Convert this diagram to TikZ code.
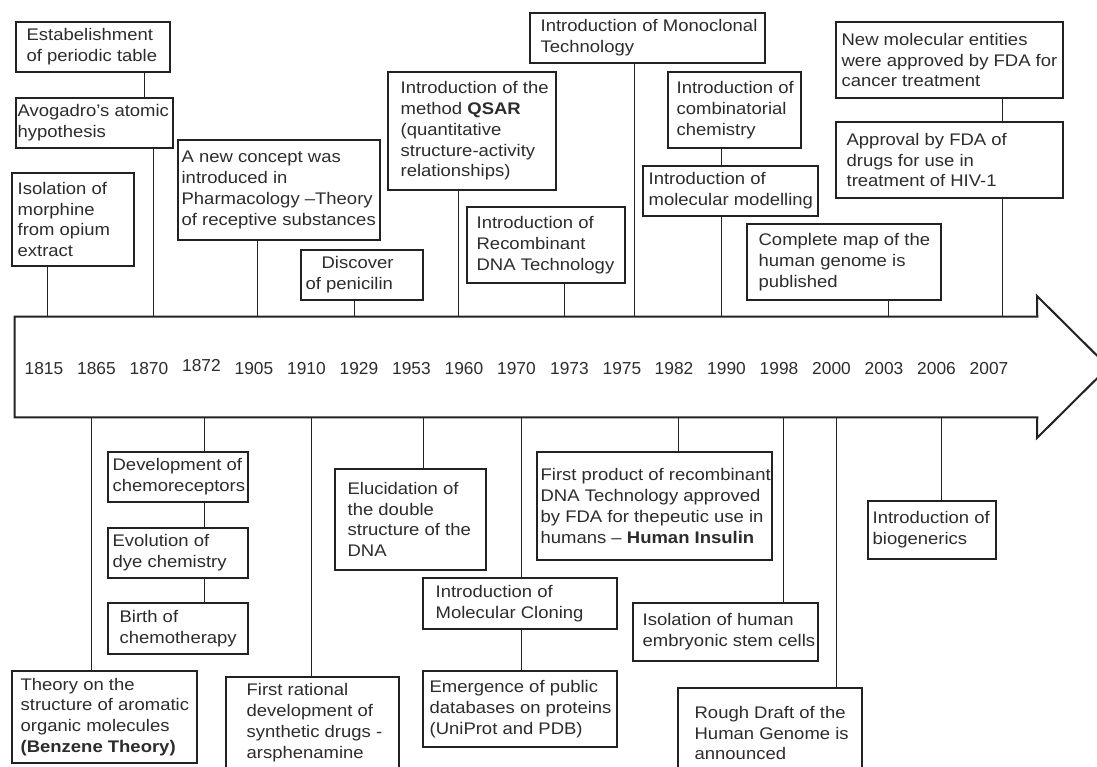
\documentclass[tikz,border=0pt]{standalone}
\usepackage{fontspec}
\setmainfont{Liberation Sans}[FakeStretch=1.1]
\newfontfamily\yearfont{Liberation Sans}
\usetikzlibrary{fit}
\definecolor{ink}{HTML}{222222}
\definecolor{txt}{HTML}{2C2C2C}
\tikzset{
  boxframe/.style={draw=ink, line width=0.95pt, inner sep=0pt},
  boxtext/.style={text=txt, align=left, inner sep=0pt, font=\fontsize{12.6}{15.6}\selectfont},
  yeartext/.style={text=txt, inner sep=0pt, font=\yearfont\fontsize{13}{15}\selectfont},
  link/.style={draw=ink, line width=0.75pt},
  arrowline/.style={draw=ink, line width=1.5pt, line join=miter},
}
% name, x1, y1, x2, y2, left padding (px), text
\newcommand\tlbox[7]{%
  \node[boxframe, fit={(#2,#3) (#4,#5)}] (#1) {};
  \node[boxtext, anchor=west] (#1t) at ([xshift=#6*0.75pt]#1.west) {#7};
}
\begin{document}
\begin{tikzpicture}[x=0.75pt,y=-0.75pt]
\useasboundingbox (0,0) rectangle (1097,767);
\fill[white] (0,0) rectangle (1097,767);

% ---------- arrow ----------
\node[inner sep=0pt, fit={(15,317) (1037,417)}] (shaft) {};
\draw[arrowline] (shaft.north west) -- (shaft.north east) -- (1037,296)
  -- (1108.5,367) -- (1037,438) -- (shaft.south east) -- (shaft.south west) -- cycle;

\foreach \yr/\xx/\yy in {1815/44/369, 1865/96.5/369, 1870/149/369, 1872/201.5/366,
  1905/254/369, 1910/306.5/369, 1929/359/369, 1953/411.5/369, 1960/464/369,
  1970/516.5/369, 1973/569.5/369, 1975/622/369, 1982/674/369, 1990/726.5/369,
  1998/779/369, 2000/831.5/369, 2003/884/369, 2006/936.5/369, 2007/989/369}
  \node[yeartext] (y\yr) at (\xx,\yy) {\yr};

% ---------- attach points on the arrow ----------
\foreach \xx in {47,153,257,354,458,564,634,721,888,1002}
  \coordinate (top\xx) at (\xx,317);
\foreach \xx in {91,204,311,423,521,678,783,836,941}
  \coordinate (bot\xx) at (\xx,417);
\coordinate (k144) at (144,0);

% ---------- upper boxes ----------
\tlbox{b1}{16}{22}{170}{72}{11}{Estabelishment\\of periodic table}
\tlbox{b2}{16}{98}{173}{148}{2}{Avogadro's atomic\\hypothesis}
\tlbox{b3}{12}{173}{134}{266}{6}{Isolation of\\morphine\\from opium\\extract}
\tlbox{b4}{178}{140}{380}{240}{4}{A new concept was\\introduced in\\Pharmacology –Theory\\of receptive substances}
\tlbox{b5}{301}{250}{423}{300}{5}{\hspace*{12pt}Discover\\of penicilin}
\tlbox{b6}{530}{13}{765}{63}{11}{Introduction of Monoclonal\\Technology}
\tlbox{b7}{388}{72}{556}{190}{13}{Introduction of the\\method \textbf{QSAR}\\(quantitative\\structure-activity\\relationships)}
\tlbox{b8}{467}{207}{625}{283}{10}{Introduction of\\Recombinant\\DNA Technology}
\tlbox{b9}{668}{72}{801}{148}{9}{Introduction of\\combinatorial\\chemistry}
\tlbox{b10}{643}{166}{818}{216}{6}{Introduction of\\molecular modelling}
\tlbox{b11}{836}{22}{1063}{98}{6}{New molecular entities\\were approved by FDA for\\cancer treatment}
\tlbox{b12}{836}{122}{1063}{198}{11}{Approval by FDA of\\drugs for use in\\treatment of HIV-1}
\tlbox{b13}{747}{224}{941}{300}{12}{Complete map of the\\human genome is\\published}

% ---------- lower boxes ----------
\tlbox{c1}{108}{452}{248}{502}{5}{Development of\\chemoreceptors}
\tlbox{c2}{108}{528}{248}{578}{5}{Evolution of\\dye chemistry}
\tlbox{c3}{108}{603}{248}{654}{12}{Birth of\\chemotherapy}
\tlbox{c4}{12}{671}{197}{763}{9}{Theory on the\\structure of aromatic\\organic molecules\\\textbf{(Benzene Theory)}}
\tlbox{c5}{226}{677}{399}{768}{21}{First rational\\development of\\synthetic drugs -\\arsphenamine}
\tlbox{c6}{335}{469}{486}{570}{13}{Elucidation of\\the double\\structure of the\\DNA}
\tlbox{c7}{423}{578}{617}{629}{13}{Introduction of\\Molecular Cloning}
\tlbox{c8}{423}{671}{617}{747}{7}{Emergence of public\\databases on proteins\\(UniProt and PDB)}
\tlbox{c9}{537}{452}{772}{560}{4}{First product of recombinant\\DNA Technology approved\\by FDA for thepeutic use in\\humans – \textbf{Human Insulin}}
\tlbox{c10}{633}{603}{818}{661}{10}{Isolation of human\\embryonic stem cells}
\tlbox{c11}{678}{688}{862}{778}{17}{Rough Draft of the\\Human Genome is\\announced}
\tlbox{c12}{868}{501}{996}{559}{5}{Introduction of\\biogenerics}

% ---------- connectors (upper) ----------
\draw[link] (b1.south -| k144) -- (b2.north -| k144);
\draw[link] (b2.south -| top153) -- (top153);
\draw[link] (b3.south -| top47) -- (top47);
\draw[link] (b4.south -| top257) -- (top257);
\draw[link] (b5.south -| top354) -- (top354);
\draw[link] (b7.south -| top458) -- (top458);
\draw[link] (b8.south -| top564) -- (top564);
\draw[link] (b6.south -| top634) -- (top634);
\draw[link] (b9.south -| top721) -- (b10.north -| top721);
\draw[link] (b10.south -| top721) -- (top721);
\draw[link] (b13.south -| top888) -- (top888);
\draw[link] (b11.south -| top1002) -- (b12.north -| top1002);
\draw[link] (b12.south -| top1002) -- (top1002);

% ---------- connectors (lower) ----------
\draw[link] (bot91) -- (c4.north -| bot91);
\draw[link] (bot204) -- (c1.north -| bot204);
\draw[link] (c1.south -| bot204) -- (c2.north -| bot204);
\draw[link] (c2.south -| bot204) -- (c3.north -| bot204);
\draw[link] (bot311) -- (c5.north -| bot311);
\draw[link] (bot423) -- (c6.north -| bot423);
\draw[link] (bot521) -- (c7.north -| bot521);
\draw[link] (c7.south -| bot521) -- (c8.north -| bot521);
\draw[link] (bot678) -- (c9.north -| bot678);
\draw[link] (bot783) -- (c10.north -| bot783);
\draw[link] (bot836) -- (c11.north -| bot836);
\draw[link] (bot941) -- (c12.north -| bot941);
\end{tikzpicture}
\end{document}
